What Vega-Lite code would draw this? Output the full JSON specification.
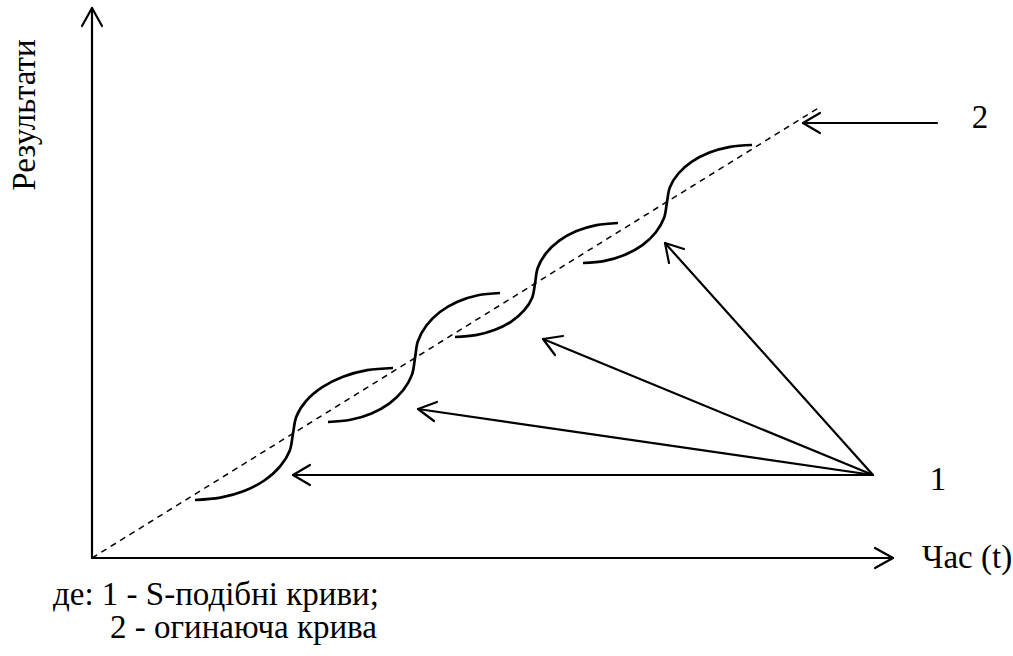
{
  "$schema": "https://vega.github.io/schema/vega-lite/v6.json",
  "width": 1013,
  "height": 656,
  "autosize": {"type": "fit", "contains": "padding"},
  "padding": 0,
  "background": "white",
  "config": {"view": {"stroke": null}},
  "datasets": {
    "segs": [
      {"id": "yaxis", "o": 1, "x": 0, "y": 0}, {"id": "yaxis", "o": 2, "x": 0, "y": 550},
      {"id": "yarrow", "o": 1, "x": -10, "y": 532}, {"id": "yarrow", "o": 2, "x": 0, "y": 550}, {"id": "yarrow", "o": 3, "x": 10, "y": 532},
      {"id": "xaxis", "o": 1, "x": 0, "y": 0}, {"id": "xaxis", "o": 2, "x": 801, "y": 0},
      {"id": "xarrow", "o": 1, "x": 783, "y": 10}, {"id": "xarrow", "o": 2, "x": 801, "y": 0}, {"id": "xarrow", "o": 3, "x": 783, "y": -10},
      {"id": "a1", "o": 1, "x": 781, "y": 83}, {"id": "a1", "o": 2, "x": 201, "y": 83},
      {"id": "a1h", "o": 1, "x": 218, "y": 93}, {"id": "a1h", "o": 2, "x": 201, "y": 83}, {"id": "a1h", "o": 3, "x": 218, "y": 73},
      {"id": "a2", "o": 1, "x": 781, "y": 83}, {"id": "a2", "o": 2, "x": 326, "y": 149},
      {"id": "a2h", "o": 1, "x": 342, "y": 137}, {"id": "a2h", "o": 2, "x": 326, "y": 149}, {"id": "a2h", "o": 3, "x": 345, "y": 156},
      {"id": "a3", "o": 1, "x": 781, "y": 83}, {"id": "a3", "o": 2, "x": 451, "y": 219},
      {"id": "a3h", "o": 1, "x": 463, "y": 203}, {"id": "a3h", "o": 2, "x": 451, "y": 219}, {"id": "a3h", "o": 3, "x": 471, "y": 222},
      {"id": "a4", "o": 1, "x": 781, "y": 83}, {"id": "a4", "o": 2, "x": 573, "y": 315},
      {"id": "a4h", "o": 1, "x": 577, "y": 295}, {"id": "a4h", "o": 2, "x": 573, "y": 315}, {"id": "a4h", "o": 3, "x": 592, "y": 309},
      {"id": "a5", "o": 1, "x": 845, "y": 435}, {"id": "a5", "o": 2, "x": 711, "y": 435},
      {"id": "a5h", "o": 1, "x": 728, "y": 445}, {"id": "a5h", "o": 2, "x": 711, "y": 435}, {"id": "a5h", "o": 3, "x": 728, "y": 425}
    ],
    "envelope": [
      {"x": 0, "y": 0}, {"x": 728, "y": 451}
    ],
    "scurves": [
      {"id": "s1", "o": 1, "x": 103, "y": 58}, {"id": "s1", "o": 2, "x": 128.4, "y": 60.3}, {"id": "s1", "o": 3, "x": 152, "y": 66.9},
      {"id": "s1", "o": 4, "x": 172.3, "y": 77.5}, {"id": "s1", "o": 5, "x": 187.9, "y": 91.3}, {"id": "s1", "o": 6, "x": 197.7, "y": 107.3},
      {"id": "s1", "o": 7, "x": 201, "y": 124.5}, {"id": "s1", "o": 8, "x": 204.4, "y": 141.5}, {"id": "s1", "o": 9, "x": 214.4, "y": 157.3},
      {"id": "s1", "o": 10, "x": 230.3, "y": 170.8}, {"id": "s1", "o": 11, "x": 251, "y": 181.2}, {"id": "s1", "o": 12, "x": 275.1, "y": 187.8},
      {"id": "s1", "o": 13, "x": 301, "y": 190},
      {"id": "s2", "o": 1, "x": 236, "y": 136}, {"id": "s2", "o": 2, "x": 258.5, "y": 138.2}, {"id": "s2", "o": 3, "x": 279.5, "y": 144.6},
      {"id": "s2", "o": 4, "x": 297.5, "y": 154.7}, {"id": "s2", "o": 5, "x": 311.3, "y": 168}, {"id": "s2", "o": 6, "x": 320, "y": 183.4},
      {"id": "s2", "o": 7, "x": 323, "y": 200}, {"id": "s2", "o": 8, "x": 325.9, "y": 216.8}, {"id": "s2", "o": 9, "x": 334.4, "y": 232.5},
      {"id": "s2", "o": 10, "x": 347.9, "y": 246}, {"id": "s2", "o": 11, "x": 365.5, "y": 256.3}, {"id": "s2", "o": 12, "x": 386, "y": 262.8},
      {"id": "s2", "o": 13, "x": 408, "y": 265},
      {"id": "s3", "o": 1, "x": 363, "y": 221}, {"id": "s3", "o": 2, "x": 383.7, "y": 222.8}, {"id": "s3", "o": 3, "x": 403, "y": 228.2},
      {"id": "s3", "o": 4, "x": 419.6, "y": 236.7}, {"id": "s3", "o": 5, "x": 432.3, "y": 247.8}, {"id": "s3", "o": 6, "x": 440.3, "y": 260.6},
      {"id": "s3", "o": 7, "x": 443, "y": 274.5}, {"id": "s3", "o": 8, "x": 445.8, "y": 290.2}, {"id": "s3", "o": 9, "x": 454.1, "y": 304.8},
      {"id": "s3", "o": 10, "x": 467.3, "y": 317.3}, {"id": "s3", "o": 11, "x": 484.5, "y": 326.9}, {"id": "s3", "o": 12, "x": 504.5, "y": 332.9},
      {"id": "s3", "o": 13, "x": 526, "y": 335},
      {"id": "s4", "o": 1, "x": 491, "y": 295}, {"id": "s4", "o": 2, "x": 512.7, "y": 297.1}, {"id": "s4", "o": 3, "x": 533, "y": 303.2},
      {"id": "s4", "o": 4, "x": 550.4, "y": 312.9}, {"id": "s4", "o": 5, "x": 563.7, "y": 325.5}, {"id": "s4", "o": 6, "x": 572.1, "y": 340.2},
      {"id": "s4", "o": 7, "x": 575, "y": 356}, {"id": "s4", "o": 8, "x": 577.9, "y": 370.8}, {"id": "s4", "o": 9, "x": 586.4, "y": 384.5},
      {"id": "s4", "o": 10, "x": 599.9, "y": 396.3}, {"id": "s4", "o": 11, "x": 617.5, "y": 405.4}, {"id": "s4", "o": 12, "x": 638, "y": 411.1},
      {"id": "s4", "o": 13, "x": 660, "y": 413}
    ],
    "ylabel": [{"x": -67, "y": 443, "label": "Результати"}],
    "xlabel": [{"x": 830, "y": 0, "label": "Час (t)"}],
    "marks12": [{"x": 846, "y": 78, "label": "1"}, {"x": 888, "y": 440, "label": "2"}],
    "notes": [
      {"x": -39, "y": -37, "label": "де: 1 - S-подібні криви;"},
      {"x": 18, "y": -70, "label": "2 - огинаюча крива"}
    ]
  },
  "encoding": {
    "x": {"field": "x", "type": "quantitative", "scale": {"domain": [-92, 921], "nice": false, "zero": false}, "axis": null},
    "y": {"field": "y", "type": "quantitative", "scale": {"domain": [-98, 558], "nice": false, "zero": false}, "axis": null}
  },
  "layer": [
    {
      "data": {"name": "envelope"},
      "mark": {"type": "line", "color": "black", "strokeWidth": 1.5, "strokeDash": [6, 5]},
      "encoding": {}
    },
    {
      "data": {"name": "segs"},
      "mark": {"type": "line", "color": "black", "strokeWidth": 2.2, "strokeCap": "round", "strokeJoin": "round"},
      "encoding": {
        "detail": {"field": "id", "type": "nominal"},
        "order": {"field": "o", "type": "quantitative"}
      }
    },
    {
      "data": {"name": "scurves"},
      "mark": {"type": "line", "color": "black", "strokeWidth": 2.7, "interpolate": "catmull-rom"},
      "encoding": {
        "detail": {"field": "id", "type": "nominal"},
        "order": {"field": "o", "type": "quantitative"}
      }
    },
    {
      "data": {"name": "ylabel"},
      "mark": {"type": "text", "angle": 270, "align": "center", "baseline": "middle", "font": "Liberation Serif", "fontSize": 33, "color": "black"},
      "encoding": {"text": {"field": "label"}}
    },
    {
      "data": {"name": "xlabel"},
      "mark": {"type": "text", "align": "left", "baseline": "middle", "font": "Liberation Serif", "fontSize": 33, "color": "black"},
      "encoding": {"text": {"field": "label"}}
    },
    {
      "data": {"name": "marks12"},
      "mark": {"type": "text", "align": "center", "baseline": "middle", "font": "Liberation Serif", "fontSize": 33, "color": "black"},
      "encoding": {"text": {"field": "label"}}
    },
    {
      "data": {"name": "notes"},
      "mark": {"type": "text", "align": "left", "baseline": "middle", "font": "Liberation Serif", "fontSize": 33, "color": "black"},
      "encoding": {"text": {"field": "label"}}
    }
  ]
}
